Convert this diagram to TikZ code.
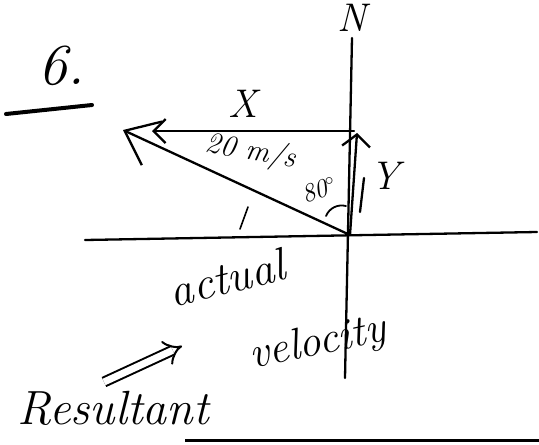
\documentclass[tikz,border=0pt]{standalone}
\usepackage{tikz}
\usetikzlibrary{arrows.meta}

\begin{document}
\begin{tikzpicture}[x=1pt,y=-1pt,
  pen/.style={line width=2.3pt,line cap=round,line join=round},
  hand/.style={inner sep=0pt,font=\itshape}
]
  \useasboundingbox (0,0) rectangle (539,445);

  % axes
  \coordinate (O) at (350,235);
  \coordinate (Ntop) at (352,38);
  \coordinate (Sbot) at (345,378);
  \coordinate (Wend) at (85,240);
  \coordinate (Eend) at (537,232);
  \draw[pen] (Ntop) -- (Sbot);
  \draw[pen] (Wend) -- (Eend);
  \node[hand,font=\fontsize{40}{40}\selectfont\itshape] (north) at (352,18) {N};

  % problem number
  \node[hand,font=\fontsize{58}{58}\selectfont\itshape] (num) at (62,66) {6.};
  \coordinate (ul1) at (6,114);
  \coordinate (ul2) at (92,105);
  \draw[line width=4pt,line cap=round] (ul1) -- (ul2);

  % vectors
  \coordinate (Rtip) at (123,130);
  \coordinate (Xtail) at (354,131);
  \coordinate (Xtip) at (152,131);
  \coordinate (Ytip) at (357,133);
  \draw[pen,-{Straight Barb[length=30pt,width=48pt]}] (O) -- (Rtip);
  \draw[pen,-{Straight Barb[length=12pt,width=24pt]}] (Xtail) -- (Xtip);
  \draw[pen,-{Straight Barb[length=12pt,width=28pt]}] (O) -- (Ytip);
  \coordinate (y1) at (364,178);
  \coordinate (y2) at (360,212);
  \draw[pen] (y1) -- (y2);

  % tick and angle mark
  \coordinate (t1) at (248,207);
  \coordinate (t2) at (240,229);
  \draw[line width=1.6pt,line cap=round] (t1) -- (t2);
  \coordinate (a1) at (326,216);
  \coordinate (a2) at (346,206);
  \draw[line width=1.8pt,line cap=round] (a1) to[bend left=40] (a2);

  % labels
  \node[hand,font=\fontsize{40}{40}\selectfont\itshape] (xlab) at (243,104) {X};
  \node[hand,font=\fontsize{40}{40}\selectfont\itshape] (ylab) at (385,176) {Y};
  \node[hand,font=\fontsize{30}{30}\selectfont\itshape,rotate=-10] (speed) at (251,152) {20 m/s};
  \node[hand,font=\fontsize{26}{26}\selectfont\itshape,rotate=20] (angle) at (319,190) {80$^\circ$};
  \node[hand,font=\fontsize{46}{46}\selectfont\itshape,rotate=14] (act) at (227,278) {actual};
  \node[hand,font=\fontsize{44}{44}\selectfont\itshape,rotate=12] (vel) at (318,344) {velocity};
  \node[hand,font=\fontsize{48}{48}\selectfont\itshape] (res) at (113,408) {Resultant};

  % pointer to the resultant
  \coordinate (p1) at (104,382);
  \coordinate (p2) at (182,346);
  \draw[line width=2pt,double,double distance=7pt,-{Implies}] (p1) -- (p2);

  % bottom rule
  \coordinate (b1) at (185,440);
  \coordinate (b2) at (539,440);
  \draw[line width=3pt] (b1) -- (b2);
\end{tikzpicture}
\end{document}
